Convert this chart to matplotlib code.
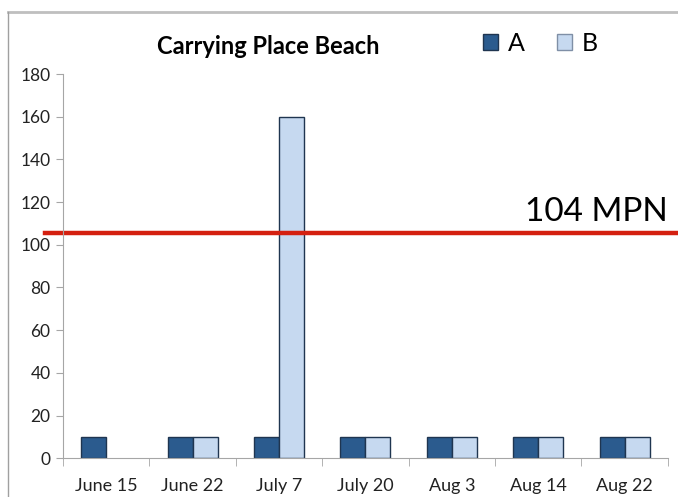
import numpy as np
import matplotlib
matplotlib.use("Agg")
import matplotlib.pyplot as plt
from matplotlib.lines import Line2D

plt.rcParams['font.family'] = ['Lato', 'DejaVu Sans']

dates = ['June 15', 'June 22', 'July 7', 'July 20', 'Aug 3', 'Aug 14', 'Aug 22']
series_a = [10, 10, 10, 10, 10, 10, 10]
series_b = [0, 10, 160, 10, 10, 10, 10]
threshold = 105.5
threshold_label = '104 MPN'
yticks = [0, 20, 40, 60, 80, 100, 120, 140, 160, 180]

col_a = '#2b5b8e'
col_b = '#c6d9f0'
edge = '#1f3550'
grey = '#a6a6a6'

fig = plt.figure(figsize=(6.78, 4.97), dpi=100)
ax = fig.add_axes([0.093, 0.078, 0.892, 0.773])

x = np.arange(len(dates))
w = 0.29
ax.bar(x - w / 2, series_a, w, color=col_a, edgecolor=edge, linewidth=1.0, label='A')
b_vals = np.array(series_b, dtype=float)
mask = b_vals > 0
ax.bar(x[mask] + w / 2, b_vals[mask], w, color=col_b, edgecolor=edge, linewidth=1.0, label='B')

ax.set_xlim(-0.5, len(dates) - 0.5)
ax.set_ylim(0, 180)
ax.set_yticks(yticks)
ax.tick_params(axis='y', labelsize=12.5, length=5, color=grey, pad=4, labelcolor='#222222')
ax.set_xticks(x)
ax.set_xticklabels(dates)
ax.tick_params(axis='x', length=0, labelsize=13, pad=14, labelcolor='#222222')
ax.set_xticks(np.arange(len(dates) + 1) - 0.5, minor=True)
ax.tick_params(axis='x', which='minor', length=6, color=grey)
for s in ['top', 'right']:
    ax.spines[s].set_visible(False)
for s in ['left', 'bottom']:
    ax.spines[s].set_color(grey)

# threshold line across the whole figure width
ax.axhline(threshold, xmin=-0.03, xmax=1.02, color='#d42010', linewidth=3.2, clip_on=False)
fig.text(0.985, 0.543, threshold_label, ha='right', va='bottom', fontsize=24)

fig.text(0.395, 0.907, 'Carrying Place Beach', ha='center', va='center',
         fontsize=17, fontweight='bold')
leg = fig.legend(loc='center', bbox_to_anchor=(0.797, 0.912), ncol=2, frameon=False,
                 fontsize=18, handlelength=0.6, handleheight=0.6, handletextpad=0.4,
                 columnspacing=1.3)
leg.legend_handles[1].set_edgecolor('#7f8fa6')

# outer frame lines
fig.add_artist(Line2D([0.012, 1.0], [0.976, 0.976], color='#bfbfbf', linewidth=2,
                      transform=fig.transFigure))
fig.add_artist(Line2D([0.012, 0.012], [0.0, 0.976], color='#a0a0a0', linewidth=1,
                      transform=fig.transFigure))

fig.savefig('out.png', dpi=100)
